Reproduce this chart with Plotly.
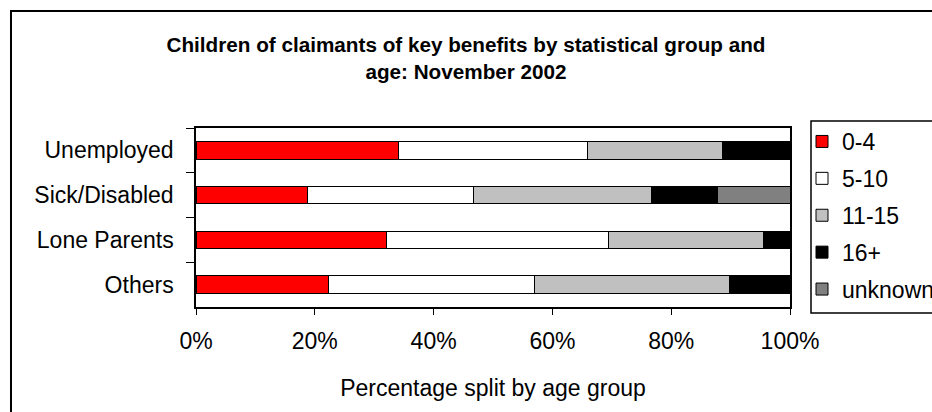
import plotly.graph_objects as go

groups = ["Unemployed", "Sick/Disabled", "Lone Parents", "Others"]
age_bands = ["0-4", "5-10", "11-15", "16+", "unknown"]
share_0_4 = [0.341, 0.188, 0.320, 0.223]
share_5_10 = [0.318, 0.279, 0.374, 0.347]
share_11_15 = [0.228, 0.299, 0.261, 0.328]
share_16_plus = [0.113, 0.112, 0.045, 0.102]
share_unknown = [0.0, 0.122, 0.0, 0.0]

band_colors = ["#FF0000", "#FFFFFF", "#C0C0C0", "#000000", "#808080"]
series = [share_0_4, share_5_10, share_11_15, share_16_plus, share_unknown]

FONT = "Liberation Sans, Arial, sans-serif"

# plot area in pixels: x 196..790, y 128..307
def px_x(p):
    return (p - 196) / 594


def px_y(p):
    return (307 - p) / 179


fig = go.Figure()
for name, vals, col in zip(age_bands, series, band_colors):
    fig.add_trace(go.Bar(
        y=groups,
        x=vals,
        name=name,
        orientation="h",
        marker=dict(color=col, line=dict(color="#000000", width=1)),
        legendgroup=name,
    ))

fig.update_layout(
    barmode="stack",
    bargap=0.607,
    width=932,
    height=412,
    margin=dict(l=196, r=142, t=128, b=105, autoexpand=False),
    paper_bgcolor="white",
    plot_bgcolor="white",
    font=dict(family=FONT, size=23, color="black"),
    title=dict(
        text="<b>Children of claimants of key benefits by statistical group and<br>age: November 2002</b>",
        x=0.5,
        xanchor="center",
        y=0.8726,
        yanchor="middle",
        font=dict(family=FONT, size=20.7, color="black"),
    ),
    legend=dict(
        x=px_x(802),
        y=px_y(120),
        xanchor="left",
        yanchor="top",
        borderwidth=0,
        bgcolor="rgba(0,0,0,0)",
        tracegroupgap=4,
        itemwidth=30,
        font=dict(family=FONT, size=23),
        traceorder="grouped",
    ),
    showlegend=True,
)

fig.update_xaxes(
    range=[0, 1],
    dtick=0.2,
    tickformat=".0%",
    showgrid=False,
    zeroline=False,
    showline=True,
    linecolor="black",
    linewidth=1.5,
    mirror=True,
    ticks="outside",
    ticklen=6,
    tickcolor="black",
    ticklabelstandoff=7,
    title=dict(text="Percentage split by age group", standoff=27, font=dict(size=23)),
)
fig.update_yaxes(
    autorange="reversed",
    showgrid=False,
    showline=True,
    linecolor="black",
    linewidth=1.5,
    mirror=True,
    ticks="outside",
    ticklen=8,
    tickcolor="black",
    tickson="boundaries",
    ticklabelstandoff=16,
)

# outer chart frame (right and bottom edges fall outside the picture)
fig.add_shape(
    type="rect",
    xref="paper", yref="paper",
    x0=px_x(11), x1=1.5,
    y0=-1.0, y1=px_y(11),
    line=dict(color="black", width=2),
    layer="below",
)
# legend frame, runs past the right edge like the original
fig.add_shape(
    type="rect",
    xref="paper", yref="paper",
    x0=px_x(811), x1=px_x(960),
    y0=px_y(313), y1=px_y(121),
    line=dict(color="black", width=1.5),
    layer="below",
)

fig.write_html(
    "out.html",
    config={"displayModeBar": False},
    post_script="document.body.style.margin='0';",
)
